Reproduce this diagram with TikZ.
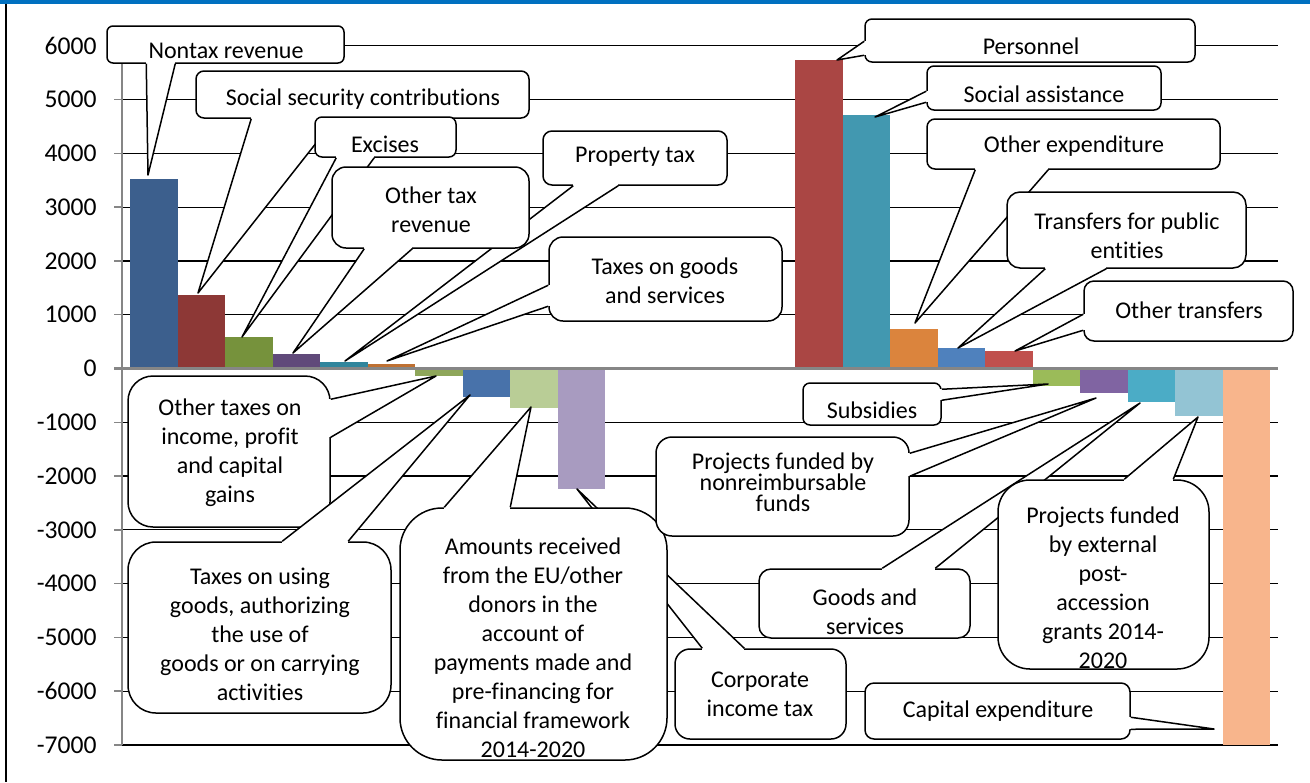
\documentclass[tikz,border=0pt]{standalone}
\usepackage{fontspec}
\setmainfont{Carlito}[Ligatures={NoCommon}]
\usetikzlibrary{calc, fit}

\definecolor{frameblue}{RGB}{0,112,192}
\definecolor{axisgray}{RGB}{134,134,134}
\definecolor{colNontax}{RGB}{60,95,141}
\definecolor{colSocial}{RGB}{141,56,54}
\definecolor{colExcises}{RGB}{118,146,60}
\definecolor{colOtherTax}{RGB}{96,74,122}
\definecolor{colProperty}{RGB}{49,133,156}
\definecolor{colGoodsTax}{RGB}{190,112,50}
\definecolor{colIncome}{RGB}{142,166,90}
\definecolor{colUsing}{RGB}{72,114,170}
\definecolor{colAmounts}{RGB}{185,205,150}
\definecolor{colCorporate}{RGB}{168,155,192}
\definecolor{colPersonnel}{RGB}{170,70,68}
\definecolor{colAssist}{RGB}{66,152,176}
\definecolor{colOtherExp}{RGB}{219,132,61}
\definecolor{colTransfers}{RGB}{79,129,189}
\definecolor{colOtherTr}{RGB}{192,80,77}
\definecolor{colSubsidies}{RGB}{155,187,89}
\definecolor{colNonreimb}{RGB}{128,100,162}
\definecolor{colGoods}{RGB}{75,172,198}
\definecolor{colExternal}{RGB}{147,196,212}
\definecolor{colCapital}{RGB}{248,181,140}

% wedge of a callout: base point, tip, base point
\newcommand\pointer[3]{%
    \fill[white] (#1) -- (#2) -- (#3) -- cycle;
    \draw[white, line width=1.3pt] (#1) -- (#3);
    \draw[callline] (#1) -- (#2) -- (#3);}

\begin{document}
\begin{tikzpicture}[x=0.5pt, y=-0.5pt,
    callbox/.style={draw, line width=0.75pt, fill=white, inner sep=0pt},
    callline/.style={line width=0.75pt, line join=round},
    lbl/.style={align=center, inner sep=0pt, font=\fontsize{12}{14.5}\selectfont},
    ylbl/.style={anchor=east, inner sep=0pt, font=\fontsize{12.8}{15}\selectfont}]

    \useasboundingbox (0,0) rectangle (1310,782);

    % Frame
    \fill[frameblue] (0,0) rectangle (1310,3.5);
    \draw[line width=1.1pt] (6,3.5) -- (6,782);

    % Grid, ticks and value labels
    \foreach \v in {6000,5000,...,-7000} {
        \pgfmathsetmacro\yy{368.5-0.05377*\v}
        \draw[axisgray, line width=0.7pt] (114,\yy) -- (122,\yy); % Ticks
        \draw[line width=0.6pt] (122,\yy) -- (1278,\yy);
        \node[ylbl] (y\v) at (97,\yy) {\v}; % Labels
    }
    \draw[axisgray, line width=0.75pt] (122,46) -- (122,745);

    % Bars (slot/value/colour)
    \foreach \s/\v/\c in {
            1/3530/colNontax, 2/1370/colSocial, 3/585/colExcises,
            4/270/colOtherTax, 5/115/colProperty, 6/84/colGoodsTax,
            7/-134/colIncome, 8/-524/colUsing, 9/-729/colAmounts,
            10/-2247/colCorporate,
            15/5737/colPersonnel, 16/4714/colAssist, 17/735/colOtherExp,
            18/375/colTransfers, 19/325/colOtherTr, 20/-320/colSubsidies,
            21/-450/colNonreimb, 22/-617/colGoods, 23/-878/colExternal,
            24/-7000/colCapital} {
        \pgfmathsetmacro\xl{130+(\s-1)*47.5}
        \pgfmathsetmacro\yv{368.5-0.05377*\v}
        \fill[\c] (\xl,368.5) rectangle (\xl+47.5,\yv);
    }
    \draw[axisgray, line width=1.2pt] (114,368.5) -- (1278,368.5);

    % Pointer tips
    \coordinate (nontaxT) at (148,175);
    \coordinate (socialT) at (198,293);
    \coordinate (excisesT) at (242,337);
    \coordinate (othertaxT) at (293,353);
    \coordinate (propertyT) at (345,361);
    \coordinate (goodstaxT) at (387,361);
    \coordinate (incomeT) at (436,376);
    \coordinate (usingT) at (470,395);
    \coordinate (amountsT) at (531,407);
    \coordinate (corporateT) at (577,489);
    \coordinate (personnelT) at (837,60);
    \coordinate (assistT) at (875,117);
    \coordinate (otherexpT) at (915,323);
    \coordinate (transfersT) at (958,348);
    \coordinate (othertrT) at (1015,351);
    \coordinate (subsidiesT) at (1048,384);
    \coordinate (nonreimbT) at (1096,398);
    \coordinate (goodsT) at (1140,403);
    \coordinate (externalT) at (1198,417);
    \coordinate (capitalT) at (1214,729);

    % Revenue callouts
    \node[callbox, rounded corners=3pt, fit={(107,26) (344,63)}] (nontax) {};
    \pointer{$(nontax.south west)+(40,0)$}{nontaxT}{$(nontax.south west)+(69,0)$}
    \node[lbl] (nontaxL) at (226,51) {Nontax revenue};

    \node[callbox, rounded corners=4pt, fit={(196,71) (529,118)}] (social) {};
    \pointer{$(social.south west)+(56,0)$}{socialT}{$(social.south west)+(140,0)$}
    \node[lbl] (socialL) at (363,99) {Social security contributions};

    \node[callbox, rounded corners=3.5pt, fit={(315,117) (456,157)}] (excises) {};
    \pointer{$(excises.south west)+(22,0)$}{excisesT}{$(excises.south west)+(60,0)$}
    \node[lbl] (excisesL) at (385,144) {Excises};

    \node[callbox, rounded corners=4.5pt, fit={(543,131) (727,185)}] (property) {};
    \pointer{$(property.south west)+(31,0)$}{propertyT}{$(property.south west)+(76,0)$}
    \node[lbl] (propertyL) at (635,157) {Property tax};

    \node[callbox, rounded corners=7pt, fit={(332,167) (529,248)}] (othertax) {};
    \pointer{$(othertax.south west)+(33,0)$}{othertaxT}{$(othertax.south west)+(81,0)$}
    \node[lbl] (othertaxL) at (431,210) {Other tax\\revenue};

    \node[callbox, rounded corners=7pt, fit={(549,237) (782,321)}] (goodstax) {};
    \pointer{$(goodstax.north west)+(0,49)$}{goodstaxT}{$(goodstax.north west)+(0,70)$}
    \node[lbl] (goodstaxL) at (665,281) {Taxes on goods\\and services};

    \node[callbox, rounded corners=12.5pt, fit={(128,376) (330,527)}] (income) {};
    \pointer{$(income.north east)+(0,24)$}{incomeT}{$(income.north east)+(0,62)$}
    \node[lbl] (incomeL) at (230,453) {Other taxes on\\income, profit\\and capital\\gains};

    \node[callbox, rounded corners=14pt, fit={(128,542) (391,713)}] (using) {};
    \pointer{$(using.north west)+(155,0)$}{usingT}{$(using.north west)+(221,0)$}
    \node[lbl] (usingL) at (260,634) {Taxes on using\\goods, authorizing\\the use of\\goods or on carrying\\activities};

    \node[callbox, rounded corners=7.5pt, fit={(675,649) (846,739)}] (corporate) {};
    \pointer{$(corporate.north west)+(28,0)$}{corporateT}{$(corporate.north west)+(70,0)$}
    \node[lbl] (corporateL) at (760,694) {Corporate\\income tax};

    \node[callbox, rounded corners=21pt, fit={(400,508) (667,760)}] (amounts) {};
    \pointer{$(amounts.north west)+(45,0)$}{amountsT}{$(amounts.north west)+(111,0)$}
    \node[lbl] (amountsL) at (533,648) {Amounts received\\from the EU/other\\donors in the\\account of\\payments made and\\pre-financing for\\financial framework\\2014-2020};

    % Expenditure callouts
    \node[callbox, rounded corners=3.5pt, fit={(865,19) (1195,62)}] (personnel) {};
    \pointer{$(personnel.north west)+(0,23)$}{personnelT}{$(personnel.north west)+(0,37)$}
    \node[lbl] (personnelL) at (1031,46) {Personnel};

    \node[callbox, rounded corners=3.5pt, fit={(927,66) (1161,110)}] (assist) {};
    \pointer{$(assist.north west)+(0,26)$}{assistT}{$(assist.north west)+(0,37)$}
    \node[lbl] (assistL) at (1044,94) {Social assistance};

    \node[callbox, rounded corners=4pt, fit={(927,119) (1220,169)}] (otherexp) {};
    \pointer{$(otherexp.south west)+(49,0)$}{otherexpT}{$(otherexp.south west)+(122,0)$}
    \node[lbl] (otherexpL) at (1074,146) {Other expenditure};

    \node[callbox, rounded corners=6.5pt, fit={(1007,192) (1246,268)}] (transfers) {};
    \pointer{$(transfers.south west)+(39,0)$}{transfersT}{$(transfers.south west)+(100,0)$}
    \node[lbl] (transfersL) at (1127,236) {Transfers for public\\entities};

    \node[callbox, rounded corners=5pt, fit={(1084,281) (1293,341)}] (othertr) {};
    \pointer{$(othertr.north west)+(0,34)$}{othertrT}{$(othertr.north west)+(0,50)$}
    \node[lbl] (othertrL) at (1189,310) {Other transfers};

    \node[callbox, rounded corners=3.5pt, fit={(803,383) (941,425)}] (subsidies) {};
    \pointer{$(subsidies.north east)+(0,7)$}{subsidiesT}{$(subsidies.north east)+(0,18)$}
    \node[lbl] (subsidiesL) at (872,410) {Subsidies};

    \node[callbox, rounded corners=8pt, fit={(656,437) (909,536)}] (nonreimb) {};
    \pointer{$(nonreimb.north east)+(0,17)$}{nonreimbT}{$(nonreimb.north east)+(0,40)$}
    \node[lbl, font=\fontsize{12}{10.5}\selectfont] (nonreimbL) at (783,482) {Projects funded by\\nonreimbursable\\funds};

    \node[callbox, rounded corners=6pt, fit={(759,569) (970,638)}] (goods) {};
    \pointer{$(goods.north west)+(124,0)$}{goodsT}{$(goods.north west)+(177,0)$}
    \node[lbl] (goodsL) at (865,612) {Goods and\\services};

    \node[callbox, rounded corners=16pt, fit={(998,480) (1209,669)}] (external) {};
    \pointer{$(external.north west)+(127,0)$}{externalT}{$(external.north west)+(176,0)$}
    \node[lbl] (externalL) at (1103,588) {Projects funded\\by external\\post-\\accession\\grants 2014-\\2020};

    \node[callbox, rounded corners=4.5pt, fit={(865,683) (1130,739)}] (capital) {};
    \pointer{$(capital.north east)+(0,35)$}{capitalT}{$(capital.north east)+(0,47)$}
    \node[lbl] (capitalL) at (998,711) {Capital expenditure};

\end{tikzpicture}
\end{document}
